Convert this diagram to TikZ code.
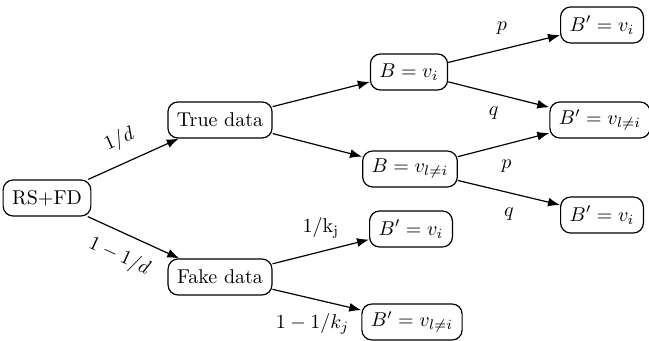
\documentclass[tikz,border=0pt]{standalone}
\usetikzlibrary{arrows.meta}
\begin{document}
\begin{tikzpicture}[x=0.5pt,y=-0.5pt,
  box/.style={draw,line width=0.6pt,rounded corners=5pt,inner xsep=4.5pt,inner ysep=2pt,minimum height=18pt},
  arr/.style={line width=0.6pt,-{Latex[length=6pt,width=4.5pt]}},
  lab/.style={font=\normalsize}]
\useasboundingbox (0,0) rectangle (649,341);
\node[box] (rs) at (47,198) {RS+FD};
\node[box] (td) at (220,120) {True data};
\node[box] (fd) at (220,277) {Fake data};
\node[box] (bi) at (409,72) {$B=v_i$};
\node[box] (bl) at (410,169) {$B=v_{l\neq i}$};
\node[box] (r1) at (602,25) {$B'=v_i$};
\node[box] (r2) at (600,120) {$B'=v_{l\neq i}$};
\node[box] (r3) at (602,215) {$B'=v_i$};
\node[box] (f1) at (411,229) {$B'=v_i$};
\node[box] (f2) at (412,322) {$B'=v_{l\neq i}$};
\draw[arr] (rs) -- node[sloped,above=3pt,lab,pos=0.45] {$1/d$} (td);
\draw[arr] (rs) -- node[sloped,below=3pt,lab,pos=0.45] {$1-1/d$} (fd);
\draw[arr] (td) -- (bi);
\draw[arr] (td) -- (bl);
\draw[arr] (bi) -- node[above=4pt,lab,pos=0.48] {$p$} (r1);
\draw[arr] (bi) -- node[below=3pt,lab,pos=0.45] {$q$} (r2);
\draw[arr] (bl) -- node[below=4pt,lab,pos=0.53] {$p$} (r2);
\draw[arr] (bl) -- node[below=4pt,lab,pos=0.5] {$q$} (r3);
\draw[arr] (fd) -- node[above=3pt,lab,pos=0.5] {$1/\mathrm{k}_\mathrm{j}$} (f1);
\draw[arr] (fd) -- node[below=4pt,lab,pos=0.45] {$1-1/k_j$} (f2);
\end{tikzpicture}
\end{document}
